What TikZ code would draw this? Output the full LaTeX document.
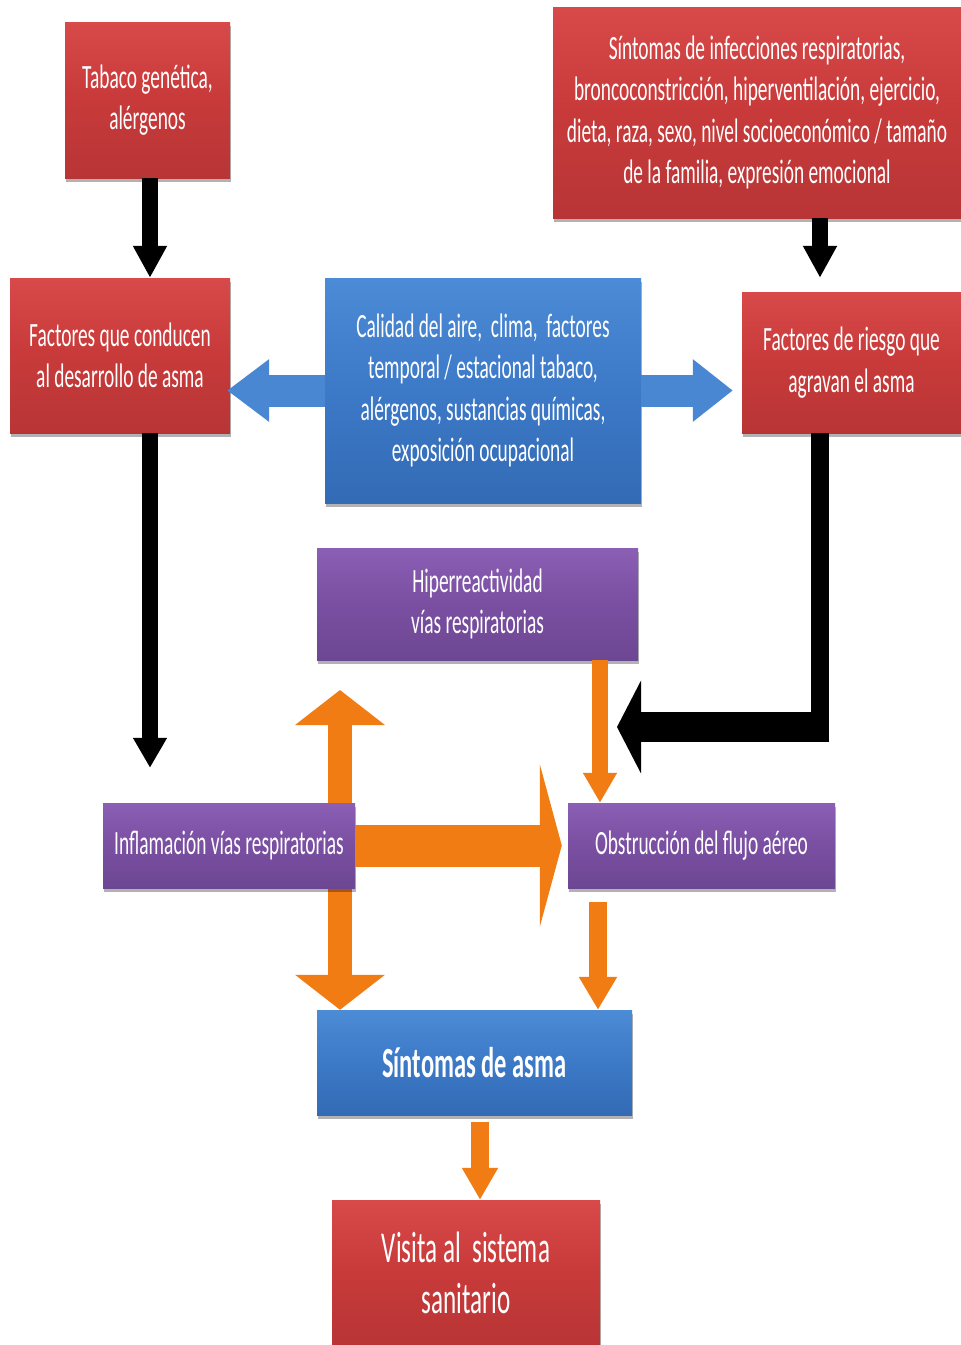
\documentclass[tikz,border=0pt]{standalone}
\usepackage{fontspec}
\setmainfont{Carlito}[FakeStretch=0.57]
\usetikzlibrary{arrows.meta,shadows,backgrounds,calc}
\definecolor{rtop}{HTML}{D84A4A}
\definecolor{rmid}{HTML}{C83A3A}
\definecolor{rbot}{HTML}{B83536}
\definecolor{btop}{HTML}{4C8BD6}
\definecolor{bmid}{HTML}{3C79C7}
\definecolor{bbot}{HTML}{336BB5}
\definecolor{ptop}{HTML}{8A5FB4}
\definecolor{pmid}{HTML}{7A4FA2}
\definecolor{pbot}{HTML}{6C4792}
\definecolor{orng}{HTML}{F27C14}
\definecolor{barrow}{HTML}{4A87D2}
\begin{document}
\begin{tikzpicture}[x=1pt,y=-1pt,
  box/.style={inner sep=0pt, align=center, text=white,
    font=\fontsize{34}{41.5}\selectfont,
    drop shadow={shadow xshift=1pt, shadow yshift=-4pt, opacity=0.3, fill=black}},
  redbox/.style={box, top color=rtop, bottom color=rbot, middle color=rmid},
  bluebox/.style={box, top color=btop, bottom color=bbot, middle color=bmid},
  purpbox/.style={box, top color=ptop, bottom color=pbot, middle color=pmid},
  blk/.style={draw=black, line width=16pt, -{Triangle[width=32pt,length=32pt]}},
  org/.style={draw=orng, line width=16pt, -{Triangle[width=32pt,length=30pt]}},
  blu/.style={draw=barrow, line width=32pt, -{Triangle[width=60pt,length=42pt]}},
]
\useasboundingbox (0,0) rectangle (961,1345);

% boxes
\node[redbox, minimum width=165pt, minimum height=156pt] (tab) at (147.5,100)
  {Tabaco genética,\\alérgenos};
\node[redbox, minimum width=408pt, minimum height=211pt] (sym) at (757,112.5)
  {Síntomas de infecciones respiratorias,\\broncoconstricción, hiperventilación, ejercicio,\\dieta, raza, sexo, nivel socioeconómico / tamaño\\de la familia, expresión emocional};
\node[redbox, minimum width=220pt, minimum height=155pt] (fac1) at (120,355.5)
  {Factores que conducen\\al desarrollo de asma};
\node[bluebox, minimum width=316pt, minimum height=225pt] (cal) at (483,390.5)
  {Calidad del aire,\ \ clima,\ \ factores\\temporal / estacional tabaco,\\alérgenos, sustancias químicas,\\exposición ocupacional};
\node[redbox, minimum width=219pt, minimum height=141pt] (fac2) at (851.5,362.5)
  {Factores de riesgo que\\agravan el asma};
\node[purpbox, minimum width=321pt, minimum height=112pt] (hip) at (477.5,604)
  {Hiperreactividad\\vías respiratorias};
\node[purpbox, minimum width=252pt, minimum height=85pt] (inf) at (229,845.5)
  {Inflamación vías respiratorias};
\node[purpbox, minimum width=267pt, minimum height=85pt] (obs) at (701.5,845.5)
  {Obstrucción del flujo aéreo};
\node[bluebox, minimum width=315pt, minimum height=105pt,
  font=\fontsize{43}{50}\selectfont\bfseries] (sa) at (474.5,1062.5)
  {Síntomas de asma};
\node[redbox, minimum width=268pt, minimum height=145pt,
  font=\fontsize{44}{51}\selectfont] (vis) at (466,1272.5)
  {Visita al\ \ sistema\\sanitario};

% helper coordinates
\coordinate (xa) at (150,0);
\coordinate (xb) at (820,0);
\coordinate (xo1) at (600,0);
\coordinate (xo2) at (598,0);
\coordinate (xo3) at (480,0);
\coordinate (du) at (340,690);
\coordinate (elb) at (829,727);
\coordinate (elbtip) at (617,727);

% black arrows
\draw[blk] (tab.south -| xa) -- (fac1.north -| xa);
\draw[blk] (sym.south -| xb) -- ([yshift=14pt]fac2.north -| xb);
\draw[blk, -{Triangle[width=32pt,length=30pt]}, shorten >=35pt] (fac1.south -| xa) -- (inf.north -| xa);
\draw[draw=black, line width=18pt] (fac2.south -| xb) -- (xb |- 0,742);
\draw[draw=black, line width=30pt, -{Triangle[width=92pt,length=24pt]}] (elb) -- (elbtip);

% blue arrows
\draw[blu, shorten >=-3pt] (cal.west) -- (fac1.east |- cal.west);
\draw[blu, -{Triangle[width=60pt,length=40pt]}, shorten >=9pt] (cal.east) -- (fac2.west |- cal.east);

% orange arrows
\begin{scope}[on background layer]
\fill[white] (0,0) rectangle (961,1345);
\draw[draw=orng, line width=24pt,
  {Triangle[width=88pt,length=35pt]}-{Triangle[width=88pt,length=35pt]}]
  (du) -- (sa.north -| du);
\end{scope}
\draw[draw=orng, line width=42pt, -{Triangle[width=162pt,length=22pt]}, shorten >=6pt]
  (inf.east) -- (obs.west);
\draw[org] (hip.south -| xo1) -- (obs.north -| xo1);
\draw[org, line width=18pt, -{Triangle[width=36pt,length=33pt]}, shorten <=14pt] (obs.south -| xo2) -- (sa.north -| xo2);
\draw[org, line width=18pt, -{Triangle[width=34pt,length=32pt]}, shorten <=7pt] (sa.south -| xo3) -- (vis.north -| xo3);
\end{tikzpicture}
\end{document}
